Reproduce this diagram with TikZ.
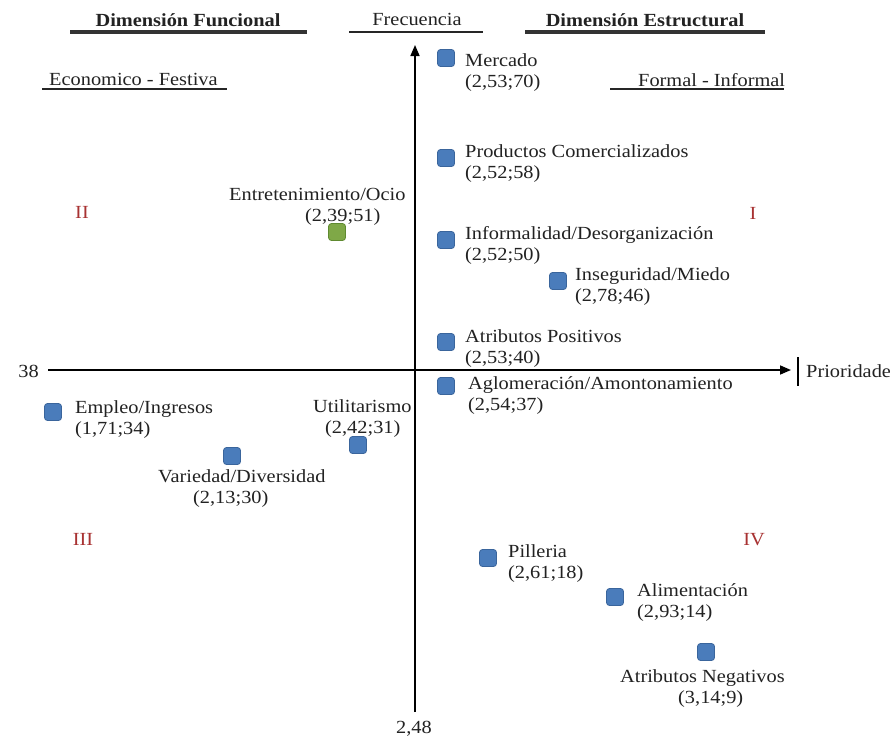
\documentclass[tikz,border=0pt]{standalone}
\usepackage{fontspec}
\setmainfont{Liberation Serif}[FakeStretch=1.1]
\usetikzlibrary{arrows.meta}
\definecolor{ptblue}{HTML}{4A7CBB}
\definecolor{ptblueD}{HTML}{3A659C}
\definecolor{ptgreen}{HTML}{7FA847}
\definecolor{ptgreenD}{HTML}{5F8A30}
\definecolor{qred}{HTML}{A83232}
\definecolor{txt}{HTML}{222222}
\tikzset{
  lbl/.style={inner sep=0pt, text=txt, font=\fontsize{18.5}{21}\selectfont},
  head/.style={lbl, font=\fontsize{18.5}{21}\selectfont\bfseries},
  quad/.style={lbl, text=qred},
  sq/.style={draw=ptblueD, fill=ptblue, line width=0.8pt, rounded corners=3pt, minimum size=17pt, inner sep=0pt},
  sqg/.style={sq, draw=ptgreenD, fill=ptgreen},
  axis/.style={line width=1.6pt, black, -{Triangle[length=11pt,width=9pt]}},
  uthick/.style={line width=3.2pt, black!80},
  uthin/.style={line width=1.1pt, black!85}
}
\begin{document}
\begin{tikzpicture}[x=1pt,y=-1pt]
\useasboundingbox (0,0) rectangle (890,744);
\fill[white] (0,0) rectangle (890,744);
% headings
\node[head, anchor=base] (hdF) at (188,26) {Dimensión Funcional};
\draw[uthick] (70,32) -- (307,32);
\node[lbl, anchor=base] (freq) at (417,25) {Frecuencia};
\draw[uthin] (349,32) -- (483,32);
\node[head, anchor=base] (hdE) at (645,26) {Dimensión Estructural};
\draw[uthick] (525,32) -- (765,32);
\node[lbl, anchor=base west] (eco) at (49,85) {Economico - Festiva};
\draw[uthin] (42,89) -- (227,89);
\node[lbl, anchor=base west] (formal) at (638,86) {Formal - Informal};
\draw[uthin] (610,89) -- (784,89);
% axes
\coordinate (ybot) at (415,712);
\coordinate (ytop) at (415,45);
\coordinate (xl) at (48,370);
\coordinate (xr) at (791,370);
\draw[axis] (ybot) -- (ytop);
\draw[axis] (xl) -- (xr);
\node[lbl, anchor=base east] (n38) at (39,377) {38};
\coordinate (bt) at (798,357);
\coordinate (bb) at (798,386);
\draw[line width=1.2pt] (bt) -- (bb);
\node[lbl, anchor=base west] (prio) at (806,377) {Prioridade};
\node[lbl, anchor=base] (n248) at (414,733) {2,48};
% quadrants
\node[quad, anchor=base] (qII) at (82,218) {II};
\node[quad, anchor=base] (qI) at (753,219) {I};
\node[quad, anchor=base] (qIII) at (83,545) {III};
\node[quad, anchor=base] (qIV) at (754,545) {IV};
% points
\node[sq] (p1) at (446,58) {};
\node[lbl, anchor=base west] (p1a) at (465,66) {Mercado};
\node[lbl, anchor=base west] (p1b) at (465,87) {(2,53;70)};
\node[sq] (p2) at (446,158) {};
\node[lbl, anchor=base west] (p2a) at (465,157) {Productos Comercializados};
\node[lbl, anchor=base west] (p2b) at (465,178) {(2,52;58)};
\node[sq] (p3) at (446,240) {};
\node[lbl, anchor=base west] (p3a) at (465,239) {Informalidad/Desorganización};
\node[lbl, anchor=base west] (p3b) at (465,260) {(2,52;50)};
\node[sq] (p4) at (558,281) {};
\node[lbl, anchor=base west] (p4a) at (575,280) {Inseguridad/Miedo};
\node[lbl, anchor=base west] (p4b) at (575,301) {(2,78;46)};
\node[sq] (p5) at (446,342) {};
\node[lbl, anchor=base west] (p5a) at (465,342) {Atributos Positivos};
\node[lbl, anchor=base west] (p5b) at (465,363) {(2,53;40)};
\node[sq] (p6) at (446,386) {};
\node[lbl, anchor=base west] (p6a) at (468,389) {Aglomeración/Amontonamiento};
\node[lbl, anchor=base west] (p6b) at (468,410) {(2,54;37)};
\node[sqg] (p7) at (337,232) {};
\node[lbl, anchor=base west] (p7a) at (229,200) {Entretenimiento/Ocio};
\node[lbl, anchor=base west] (p7b) at (305,221) {(2,39;51)};
\node[sq] (p8) at (53,412) {};
\node[lbl, anchor=base west] (p8a) at (75,413) {Empleo/Ingresos};
\node[lbl, anchor=base west] (p8b) at (75,434) {(1,71;34)};
\node[sq] (p9) at (358,445) {};
\node[lbl, anchor=base west] (p9a) at (313,412) {Utilitarismo};
\node[lbl, anchor=base west] (p9b) at (325,433) {(2,42;31)};
\node[sq] (p10) at (232,456) {};
\node[lbl, anchor=base west] (p10a) at (158,482) {Variedad/Diversidad};
\node[lbl, anchor=base west] (p10b) at (193,503) {(2,13;30)};
\node[sq] (p11) at (488,558) {};
\node[lbl, anchor=base west] (p11a) at (508,557) {Pilleria};
\node[lbl, anchor=base west] (p11b) at (508,578) {(2,61;18)};
\node[sq] (p12) at (615,597) {};
\node[lbl, anchor=base west] (p12a) at (637,596) {Alimentación};
\node[lbl, anchor=base west] (p12b) at (637,617) {(2,93;14)};
\node[sq] (p13) at (706,652) {};
\node[lbl, anchor=base west] (p13a) at (620,682) {Atributos Negativos};
\node[lbl, anchor=base west] (p13b) at (678,703) {(3,14;9)};
\end{tikzpicture}
\end{document}
